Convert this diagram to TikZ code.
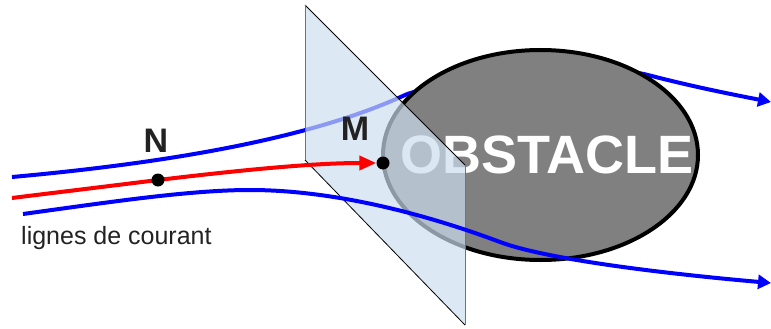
\documentclass[tikz,border=0pt]{standalone}
\usepackage{fontspec}
\setmainfont{Liberation Sans}
\usetikzlibrary{shapes.geometric,arrows.meta}
\definecolor{planefill}{RGB}{204,223,240}
\definecolor{streamblue}{RGB}{0,0,255}
\definecolor{streamred}{RGB}{255,0,0}
\definecolor{obstaclegray}{RGB}{128,128,128}
\definecolor{labelgray}{RGB}{34,34,34}
\pgfdeclarelayer{behind}
\pgfdeclarelayer{solid}
\pgfdeclarelayer{sheet}
\pgfdeclarelayer{front}
\pgfsetlayers{behind,solid,sheet,main,front}
\tikzset{
  stream/.style={line width=4pt},
  bluetip/.style={-{Triangle[length=13pt,width=14pt]}},
  redtip/.style={-{Triangle[length=17pt,width=14pt]}},
  dot/.style={circle,fill=black,inner sep=0pt,minimum size=13pt},
  ptlabel/.style={font=\fontsize{34}{38}\selectfont\bfseries,text=labelgray,inner sep=0pt,anchor=base},
}
\begin{document}
\begin{tikzpicture}[x=1pt,y=-1pt]
\useasboundingbox (0,0) rectangle (771,329);

% points and labels, on top of everything
\begin{pgfonlayer}{front}
  \node[dot] (N) at (158,180) {};
  \node[dot] (M) at (383,163) {};
  \node[ptlabel] (Nlab) at (156,152) {N};
  \node[ptlabel] (Mlab) at (355,140) {M};
  \node[anchor=base west,inner sep=0pt,font=\fontsize{25}{29}\selectfont,text=labelgray]
    (legend) at (21,244) {lignes de courant};
\end{pgfonlayer}

% the obstacle
\begin{pgfonlayer}{solid}
  \node[ellipse,draw=black,line width=4pt,fill=obstaclegray,
        minimum width=315pt,minimum height=210pt,inner sep=0pt] (obstacle) at (540.5,155) {};
  \node[anchor=base,inner sep=0pt,text=white,font=\fontsize{54}{58}\selectfont\bfseries]
    (obstext) at (547,173) {OBSTACLE};
\end{pgfonlayer}

% upper streamline, passing behind the plane and the obstacle
\begin{pgfonlayer}{behind}
  \coordinate (u0) at (12,177);
  \coordinate (u1) at (405,95);
  \coordinate (u2) at (648,75);
  \coordinate (u3) at (771,102);
  \draw[stream,streamblue,bluetip] (u0) .. controls (200,160) and (325,132) .. (u1)
    .. controls (435,82) and (600,62) .. (u2)
    .. controls (690,86) and (730,94) .. (u3);
\end{pgfonlayer}

% translucent cross-section plane
\begin{pgfonlayer}{sheet}
  \coordinate (p1) at (305,5);
  \coordinate (p2) at (465,165);
  \coordinate (p3) at (465,325);
  \coordinate (p4) at (305,160);
  \fill[planefill,fill opacity=0.69] (p1) -- (p2) -- (p3) -- (p4) -- cycle;
  \draw[line width=0.8pt] (p1) -- (p2);
  \draw[line width=0.8pt] (p4) -- (p3);
  \draw[line width=0.5pt,black!55] (p1) -- (p4);
  \draw[line width=0.5pt,black!55] (p2) -- (p3);
\end{pgfonlayer}

% lower streamline, over the plane and the obstacle
\coordinate (l0) at (23,214);
\coordinate (l1) at (771,283);
\draw[stream,streamblue,bluetip] (l0) .. controls (110,202) and (190,190) .. (250,190)
  .. controls (330,190) and (420,212) .. (500,242)
  .. controls (550,260.75) and (680,275) .. (l1);

% streamline through N and M
\coordinate (r0) at (12,198);
\draw[stream,streamred,redtip] (r0) .. controls (60,192) and (110,186) .. (N.center)
  .. controls (258,168) and (320,163) .. (M);

\end{tikzpicture}
\end{document}
